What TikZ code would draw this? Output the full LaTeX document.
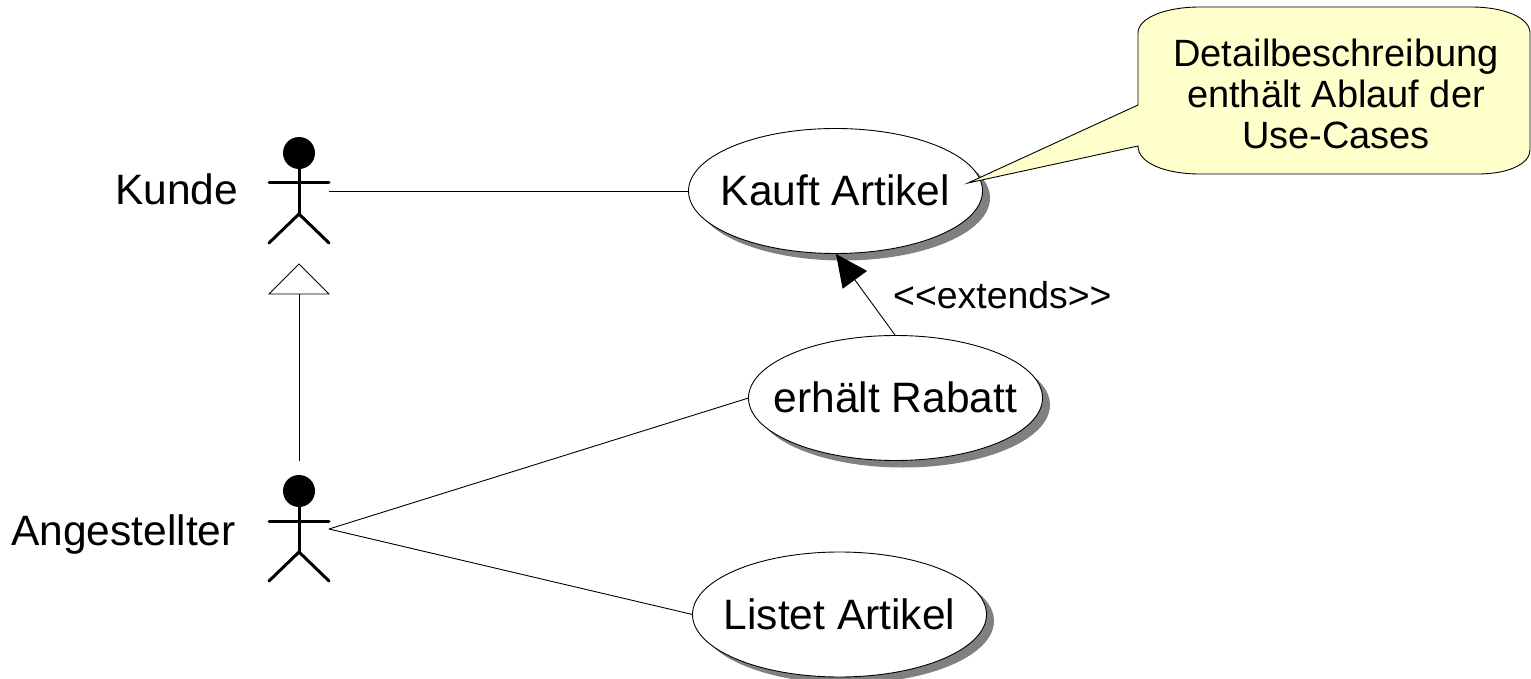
\documentclass[tikz,border=0pt]{standalone}
\usepackage{fontspec}
\setmainfont{Liberation Sans}
\usetikzlibrary{arrows.meta,shapes.geometric}
\tikzset{
  usecase/.style={ellipse,draw=black,fill=white,line width=0.9pt,minimum width=294pt,minimum height=125pt,inner sep=0pt,outer sep=0pt,font=\fontsize{42.5}{50}\selectfont},
  shadowcase/.style={ellipse,fill=black!50,minimum width=294pt,minimum height=125pt,inner sep=0pt,outer sep=0pt},
  limb/.style={line width=3pt,line cap=round},
  conn/.style={line width=0.9pt},
  lbl/.style={font=\fontsize{42.5}{50}\selectfont,inner sep=0pt},
}
\definecolor{notefill}{RGB}{255,255,204}
\newcommand{\actorfig}[4]{%
  \fill (#2,#3) circle (16pt);
  \coordinate (#1head) at (#2,#3);
  \coordinate (#1hip) at (#2,#3+61);
  \coordinate (#1la) at (#2-30,#3+30);
  \coordinate (#1ra) at (#2+30,#3+30);
  \coordinate (#1ll) at (#2-30,#3+90);
  \coordinate (#1rl) at (#2+30,#3+90);
  \coordinate (#1c) at (#2+30,#4);
  \draw[limb] (#1head) -- (#1hip);
  \draw[limb] (#1la) -- (#1ra);
  \draw[limb] (#1ll) -- (#1hip) -- (#1rl);
}
\newcommand{\uctext}[1]{\makebox[0pt]{\raisebox{-14.5pt}[0pt][0pt]{#1}}}
\begin{document}
\begin{tikzpicture}[x=1pt,y=-1pt]
\useasboundingbox (0,0) rectangle (1531,679);
\actorfig{k}{299}{153}{191}
\actorfig{a}{299}{491}{529}
\node[lbl,anchor=base west] (kl) at (115,205) {Kunde};
\node[lbl,anchor=base west] (al) at (11,545) {Angestellter};
\node[shadowcase] at (843,198) {};
\node[shadowcase] at (903,405) {};
\node[shadowcase] at (847,621) {};
\node[usecase] (kauft) at (835.5,191) {\uctext{Kauft Artikel}};
\node[usecase] (rabatt) at (895.5,398) {\uctext{erhält Rabatt}};
\node[usecase] (listet) at (839.5,614.5) {\uctext{Listet Artikel}};
\draw[conn] (kc) -- (kauft.west);
\draw[conn] (ac) -- (rabatt.west);
\draw[conn] (ac) -- (listet.west);
\coordinate (tip) at (299,264);
\coordinate (tl) at (269,294);
\coordinate (tr) at (329,294);
\coordinate (tb) at (299,294);
\coordinate (astart) at (299,461);
\draw[conn] (tip) -- (tl) -- (tr) -- cycle;
\draw[conn] (astart) -- (tb);
\coordinate (es) at (895,335);
\coordinate (et) at (836,254);
\draw[conn,-{Triangle[length=32pt,width=30pt]}] (es) -- (et);
\node[anchor=base west,inner sep=0pt,font=\fontsize{37.4}{44}\selectfont] (ext) at (893,308) {<{}<extends>{}>};
\draw[conn,fill=notefill] (968,183) -- (1138,105) -- (1138,33)
  .. controls (1138,18) and (1165,7) .. (1200,7) -- (1471,7)
  .. controls (1505,7) and (1530,18) .. (1530,33) -- (1530,150)
  .. controls (1530,163) and (1510,174) .. (1478,174) -- (1200,174)
  .. controls (1165,174) and (1138,163) .. (1138,146) -- cycle;
\node[align=center,inner sep=0pt,font=\fontsize{38}{41}\selectfont] (note) at (1336,94) {Detailbeschreibung\\enthält Ablauf der\\Use-Cases};
\end{tikzpicture}
\end{document}
